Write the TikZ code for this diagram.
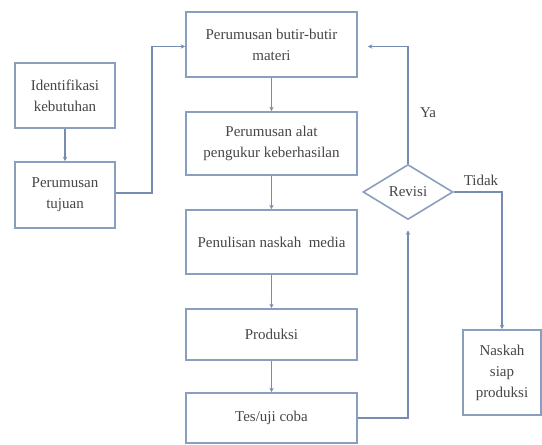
\documentclass[tikz,border=0pt]{standalone}
\usepackage{fontspec}
\setmainfont{Liberation Serif}
\usetikzlibrary{shapes.geometric,arrows.meta}
\definecolor{boxline}{RGB}{140,158,190}
\definecolor{conn}{RGB}{120,140,178}
\definecolor{txt}{RGB}{70,70,70}
\tikzset{
  box/.style={draw=boxline, line width=1.6pt, rectangle, inner sep=0pt, align=center,
    text=txt, font=\fontsize{15}{21}\selectfont},
  dec/.style={draw=boxline, line width=1.6pt, diamond, aspect=1.64, inner sep=0pt,
    minimum width=90pt, minimum height=55pt, text=txt, font=\fontsize{15}{21}\selectfont},
  arr/.style={draw=conn, line width=1.3pt, -{Stealth[length=4.5pt,width=4.5pt]}},
  lbl/.style={text=txt, font=\fontsize{15}{21}\selectfont, inner sep=0pt}
}
\begin{document}
\begin{tikzpicture}[x=1pt,y=-1pt]
\useasboundingbox (0,0) rectangle (542,445);
\node[box, minimum width=100pt, minimum height=65pt] (idk) at (65,95.5) {Identifikasi\\kebutuhan};
\node[box, minimum width=100pt, minimum height=66pt] (rt) at (65,195) {Perumusan\\tujuan};
\node[box, minimum width=171pt, minimum height=65pt] (m1) at (271.5,44.5) {Perumusan butir-butir\\materi};
\node[box, minimum width=171pt, minimum height=63pt] (m2) at (271.5,143.5) {Perumusan alat\\pengukur keberhasilan};
\node[box, minimum width=171pt, minimum height=64pt] (m3) at (271.5,242) {Penulisan naskah\ \ media};
\node[box, minimum width=171pt, minimum height=51pt] (m4) at (271.5,334.5) {Produksi};
\node[box, minimum width=171pt, minimum height=50pt] (m5) at (271.5,418) {Tes/uji coba};
\node[dec] (rev) at (408,192) {Revisi};
\node[box, minimum width=78pt, minimum height=85pt] (nsp) at (502,372.5) {Naskah\\siap\\produksi};
\coordinate (k1) at (152,193);
\node[lbl] (ya) at (428,113) {Ya};
\node[lbl] (tdk) at (481,180) {Tidak};
\draw[arr] (idk) -- (rt);
\draw[arr] (rt.east |- k1) -- (k1) |- ([yshift=-2pt]m1.west);
\draw[arr] (m1) -- (m2);
\draw[arr] (m2) -- (m3);
\draw[arr] (m3) -- (m4);
\draw[arr] (m4) -- (m5);
\draw[arr, shorten >=10pt] (rev.north) |- ([yshift=-2pt]m1.east);
\draw[arr] (rev.east) -| (nsp.north);
\draw[arr, shorten >=10pt] (m5.east) -| (rev.south);
\end{tikzpicture}
\end{document}
